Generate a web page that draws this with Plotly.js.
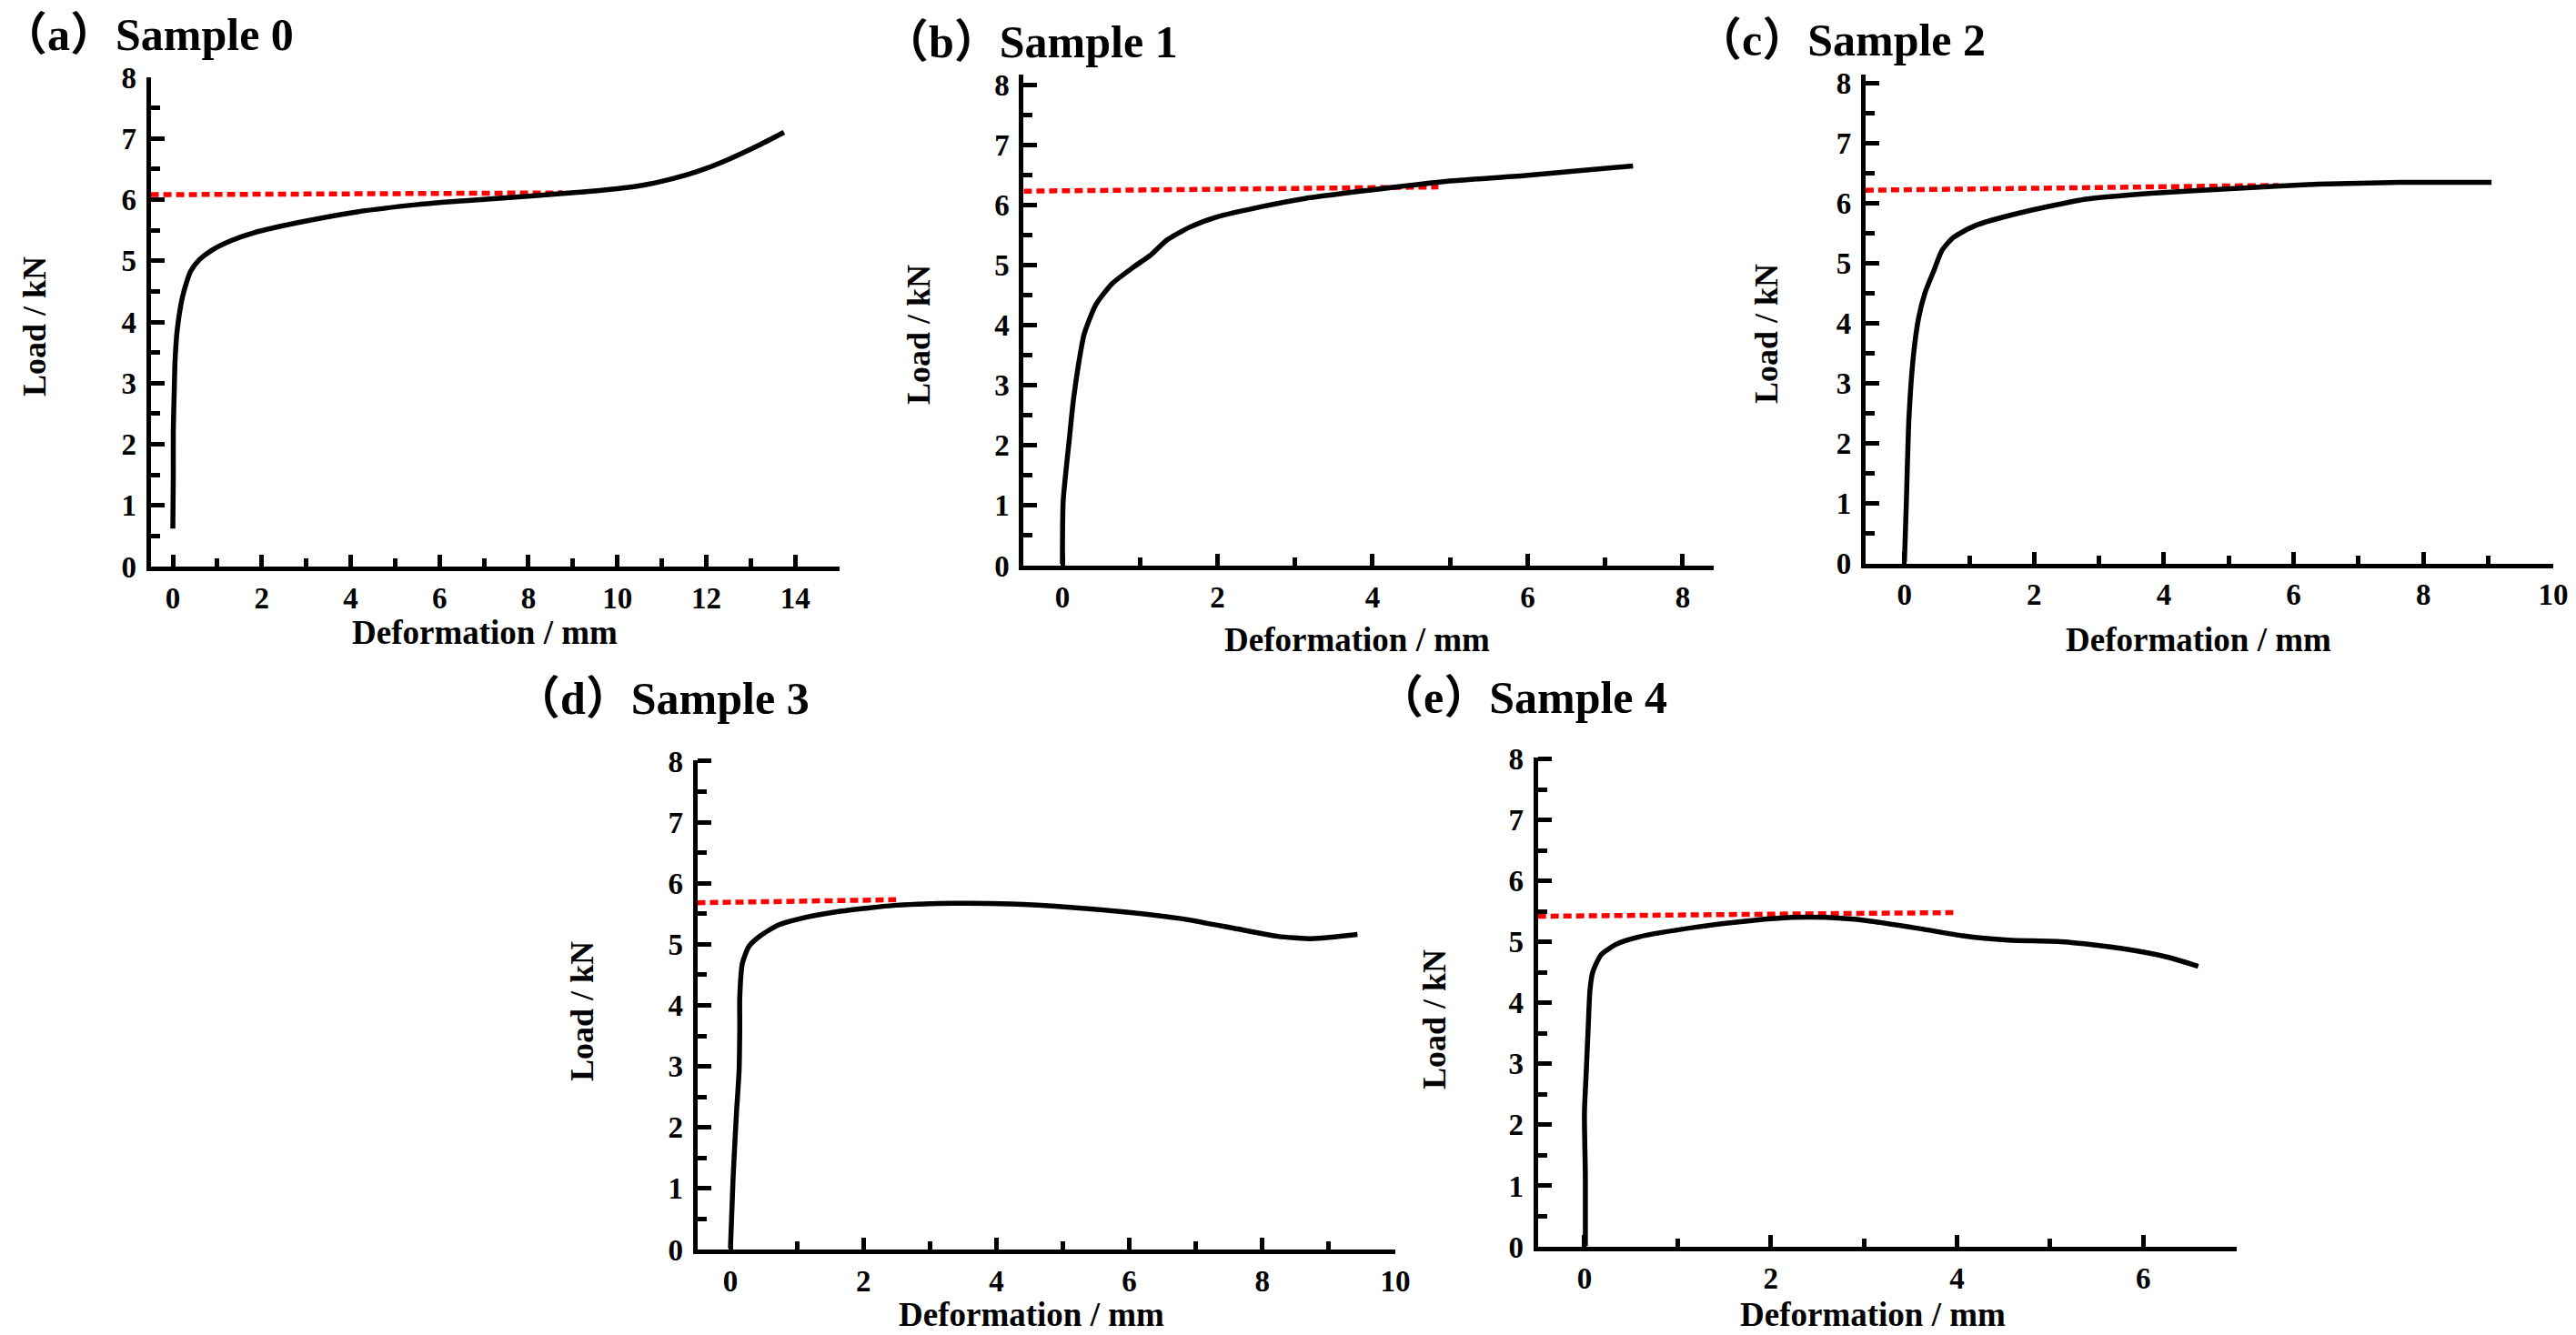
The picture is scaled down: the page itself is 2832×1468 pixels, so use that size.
<!DOCTYPE html>
<html>
<head>
<meta charset="utf-8">
<script src="https://cdn.plot.ly/plotly-3.0.1.min.js"></script>
<style>html,body{margin:0;padding:0;background:#fff;}#chart{width:2832px;height:1468px;}</style>
</head>
<body>
<div id="chart"></div>
<script>
// ---- Data ----
const panelTitles = ["（a）Sample 0", "（b）Sample 1", "（c）Sample 2", "（d）Sample 3", "（e）Sample 4"];
const xAxisTitle = "Deformation / mm";
const yAxisTitle = "Load / kN";

const sample0X = [0.00, 0.01, 0.01, 0.03, 0.05, 0.10, 0.18, 0.26, 0.40, 0.60, 0.87, 1.28, 1.83, 2.79, 4.15, 5.52, 6.34, 7.50, 8.77, 9.60, 10.44, 11.00, 11.53, 12.00, 12.48, 13.16, 13.75];
const sample0Y = [0.62, 1.50, 2.24, 2.84, 3.38, 3.88, 4.28, 4.53, 4.83, 5.02, 5.17, 5.32, 5.46, 5.62, 5.80, 5.92, 5.97, 6.03, 6.10, 6.15, 6.22, 6.30, 6.40, 6.51, 6.65, 6.88, 7.10];
const tangent0X = [-0.5, 8.77];
const tangent0Y = [6.08, 6.11];

const sample1X = [0.00, 0.01, 0.09, 0.14, 0.21, 0.28, 0.43, 0.64, 0.92, 1.14, 1.35, 1.64, 1.99, 2.56, 3.13, 3.98, 4.91, 5.97, 7.36];
const sample1Y = [0.03, 1.08, 2.12, 2.74, 3.37, 3.85, 4.34, 4.69, 4.97, 5.17, 5.42, 5.63, 5.80, 5.97, 6.11, 6.25, 6.39, 6.49, 6.65];
const tangent1X = [-0.5, 4.85];
const tangent1Y = [6.23, 6.30];

const sample2X = [0.00, 0.03, 0.07, 0.14, 0.22, 0.32, 0.45, 0.58, 0.75, 1.09, 1.77, 2.79, 3.81, 5.09, 6.37, 7.64, 9.05];
const sample2Y = [0.03, 1.04, 2.43, 3.48, 4.10, 4.52, 4.87, 5.22, 5.43, 5.63, 5.84, 6.07, 6.17, 6.25, 6.32, 6.35, 6.35];
const tangent2X = [-0.6, 5.77];
const tangent2Y = [6.22, 6.30];

const sample3X = [0.00, 0.04, 0.09, 0.13, 0.14, 0.14, 0.18, 0.28, 0.45, 0.71, 1.05, 1.65, 2.50, 3.36, 4.21, 5.07, 5.92, 6.78, 7.63, 8.23, 8.74, 9.09, 9.43];
const sample3Y = [0.02, 1.18, 2.23, 2.93, 3.64, 4.13, 4.69, 4.97, 5.14, 5.31, 5.42, 5.54, 5.64, 5.67, 5.66, 5.61, 5.53, 5.42, 5.25, 5.13, 5.09, 5.12, 5.16];
const tangent3X = [-0.5, 2.49];
const tangent3Y = [5.68, 5.73];

const sample4X = [0.01, 0.01, 0.00, 0.02, 0.04, 0.06, 0.09, 0.18, 0.34, 0.58, 1.19, 1.80, 2.23, 2.59, 3.02, 3.63, 4.06, 4.55, 5.16, 5.77, 6.26, 6.59];
const sample4Y = [0.01, 1.14, 2.19, 2.89, 3.59, 4.22, 4.51, 4.79, 4.96, 5.08, 5.24, 5.35, 5.40, 5.40, 5.35, 5.21, 5.10, 5.03, 5.00, 4.89, 4.75, 4.60];
const tangent4X = [-0.5, 3.96];
const tangent4Y = [5.42, 5.48];

const xRanges = [[-0.5, 15], [-0.5, 8.4], [-0.6, 10], [-0.5, 10], [-0.5, 7]];
const yRanges = [[0, 8], [0, 8.17], [0, 8.15], [0, 8.02], [0, 8.03]];

// ---- Layout geometry (pixel boxes in a 2832x1468 page) ----
const W = 2832, H = 1468;
const boxes = [
  {l: 165.6, r: 923,    t: 85,    b: 623},
  {l: 1125.4, r: 1884,  t: 82,    b: 622},
  {l: 2050.9, r: 2806.9,t: 81.8,  b: 619.7},
  {l: 766.5, r: 1534,   t: 835.6, b: 1374},
  {l: 1690.7, r: 2458.7,t: 832.5, b: 1371}
];
const titlePos = [[0, 38], [969, 46], [1863, 44], [564, 768], [1513, 767]];
const xTitlePos = [[533, 695], [1492, 703], [2417, 703], [1134, 1445], [2059, 1445]];
const yTitlePos = [[38, 359], [1010, 368], [1942, 367], [640, 1112], [1577, 1121]];

const serif = "Liberation Serif, Times New Roman, Noto Sans CJK SC, serif";
const curvesX = [sample0X, sample1X, sample2X, sample3X, sample4X];
const curvesY = [sample0Y, sample1Y, sample2Y, sample3Y, sample4Y];
const tanX = [tangent0X, tangent1X, tangent2X, tangent3X, tangent4X];
const tanY = [tangent0Y, tangent1Y, tangent2Y, tangent3Y, tangent4Y];

const traces = [];
const layout = {
  width: W, height: H,
  margin: {l: 0, r: 0, t: 0, b: 0},
  paper_bgcolor: "#ffffff", plot_bgcolor: "rgba(0,0,0,0)",
  showlegend: false,
  annotations: []
};

for (let i = 0; i < 5; i++) {
  const sfx = i === 0 ? "" : String(i + 1);
  const xa = "x" + sfx, ya = "y" + sfx;
  traces.push({
    x: tanX[i], y: tanY[i], xaxis: xa, yaxis: ya, type: "scatter", mode: "lines",
    line: {color: "#ff0000", width: 5.5, dash: "9px,5px"}, hoverinfo: "skip"
  });
  traces.push({
    x: curvesX[i], y: curvesY[i], xaxis: xa, yaxis: ya, type: "scatter", mode: "lines",
    line: {color: "#000000", width: 5.5, shape: "spline", smoothing: 0.6}, hoverinfo: "skip"
  });
  const b = boxes[i];
  const tickFont = {family: serif, size: 33, color: "#000", weight: "bold"};
  layout["xaxis" + sfx] = {
    domain: [b.l / W, b.r / W], anchor: ya, range: xRanges[i],
    showgrid: false, zeroline: false, showline: true, linecolor: "#000", linewidth: 5,
    ticks: "inside", ticklen: 13, tickwidth: 5, tickcolor: "#000",
    tick0: 0, dtick: 2, tickfont: tickFont, ticklabelstandoff: 1,
    minor: {ticks: "inside", ticklen: 9, tickwidth: 5, tickcolor: "#000", dtick: 1, tick0: 0, showgrid: false},
    fixedrange: true
  };
  layout["yaxis" + sfx] = {
    domain: [1 - b.b / H, 1 - b.t / H], anchor: xa, range: yRanges[i],
    showgrid: false, zeroline: false, showline: true, linecolor: "#000", linewidth: 5,
    ticks: "inside", ticklen: 15, tickwidth: 5, tickcolor: "#000",
    tick0: 0, dtick: 1, tickfont: tickFont, ticklabelstandoff: 4,
    minor: {ticks: "inside", ticklen: 10, tickwidth: 5, tickcolor: "#000", dtick: 0.5, tick0: 0, showgrid: false},
    fixedrange: true
  };
  layout.annotations.push({
    text: panelTitles[i], xref: "paper", yref: "paper",
    x: titlePos[i][0] / W, y: 1 - titlePos[i][1] / H, xanchor: "left", yanchor: "middle",
    showarrow: false, font: {family: serif, size: 50, color: "#000", weight: "bold"}
  });
  layout.annotations.push({
    text: xAxisTitle, xref: "paper", yref: "paper",
    x: xTitlePos[i][0] / W, y: 1 - xTitlePos[i][1] / H, xanchor: "center", yanchor: "middle",
    showarrow: false, font: {family: serif, size: 37, color: "#000", weight: "bold"}
  });
  layout.annotations.push({
    text: yAxisTitle, xref: "paper", yref: "paper", textangle: -90,
    x: yTitlePos[i][0] / W, y: 1 - yTitlePos[i][1] / H, xanchor: "center", yanchor: "middle",
    showarrow: false, font: {family: serif, size: 36, color: "#000", weight: "bold"}
  });
}

Plotly.newPlot("chart", traces, layout, {staticPlot: true, displayModeBar: false});
</script>
</body>
</html>
